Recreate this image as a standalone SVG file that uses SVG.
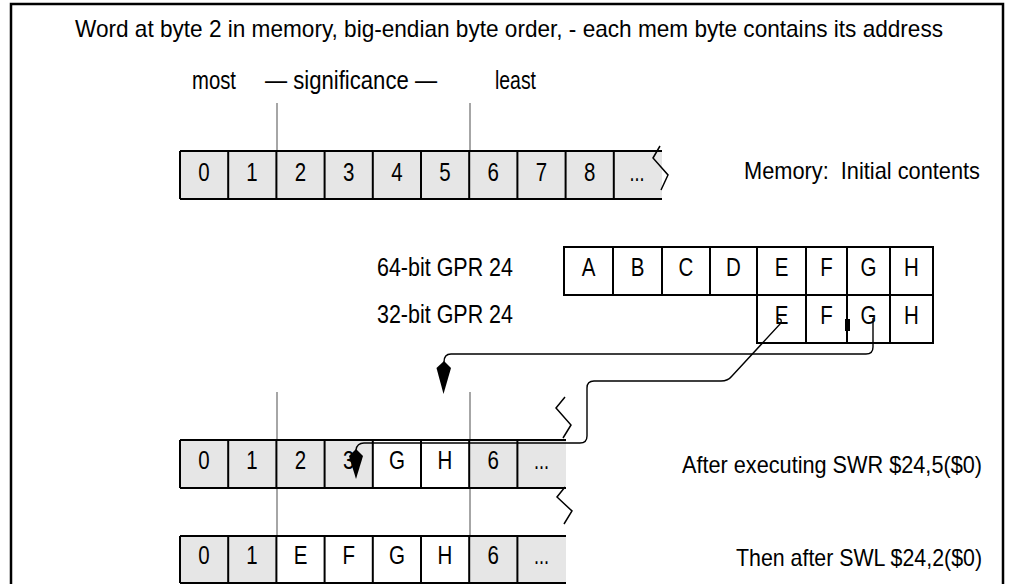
<svg xmlns="http://www.w3.org/2000/svg" width="1014" height="584" viewBox="0 0 1014 584">
<style>
.t{font-family:"Liberation Sans",Arial,sans-serif;font-size:25px;fill:#000}
.l{font-size:24px}
.c{text-anchor:middle}
.e{text-anchor:end}
.ln{stroke:#000;stroke-width:2;fill:none}
.gr{fill:#e6e6e6}
.wh{fill:#fff}
.guide{stroke:#888;stroke-width:1.5}
.conn{fill:none;stroke:#000;stroke-width:1.4}
.zig{fill:none;stroke:#000;stroke-width:1.5}
</style>
<rect x="0" y="0" width="1014" height="584" fill="#fff"/>
<rect x="11" y="4" width="992" height="640" fill="none" stroke="#000" stroke-width="2.5"/>

<g id="title">
<text class="t l" x="75" y="37" textLength="868" lengthAdjust="spacingAndGlyphs">Word at byte 2 in memory, big-endian byte order, - each mem byte contains its address</text>
</g>

<g id="significance">
<text class="t" x="192" y="89" textLength="44" lengthAdjust="spacingAndGlyphs">most</text>
<text class="t" x="265" y="89" textLength="172" lengthAdjust="spacingAndGlyphs">— significance —</text>
<text class="t" x="495" y="89" textLength="41" lengthAdjust="spacingAndGlyphs">least</text>
<line class="guide" x1="277" y1="103" x2="277" y2="151"/>
<line class="guide" x1="470" y1="103" x2="470" y2="151"/>
</g>

<g id="mem-initial">
<rect class="gr" x="180" y="151" width="482" height="48"/>
<path class="ln" d="M180,151H662M180,199H662M180,151V199M228.2,151V199M276.4,151V199M324.6,151V199M372.8,151V199M421,151V199M469.2,151V199M517.4,151V199M565.6,151V199M613.8,151V199"/>
<polyline class="zig" points="660,146 653,158 668,175 661,190"/>
<text class="t c" x="204" y="181" textLength="11.4" lengthAdjust="spacingAndGlyphs">0</text>
<text class="t c" x="252" y="181" textLength="11.4" lengthAdjust="spacingAndGlyphs">1</text>
<text class="t c" x="300.5" y="181" textLength="11.4" lengthAdjust="spacingAndGlyphs">2</text>
<text class="t c" x="348.7" y="181" textLength="11.4" lengthAdjust="spacingAndGlyphs">3</text>
<text class="t c" x="397" y="181" textLength="11.4" lengthAdjust="spacingAndGlyphs">4</text>
<text class="t c" x="445" y="181" textLength="11.4" lengthAdjust="spacingAndGlyphs">5</text>
<text class="t c" x="493.3" y="181" textLength="11.4" lengthAdjust="spacingAndGlyphs">6</text>
<text class="t c" x="541.5" y="181" textLength="11.4" lengthAdjust="spacingAndGlyphs">7</text>
<text class="t c" x="589.7" y="181" textLength="11.4" lengthAdjust="spacingAndGlyphs">8</text>
<text class="t c" x="637" y="181" textLength="15" lengthAdjust="spacingAndGlyphs">...</text>
<text class="t l" x="744" y="179" textLength="236" lengthAdjust="spacingAndGlyphs" style="white-space:pre">Memory:  Initial contents</text>
</g>

<g id="gpr64">
<text class="t" x="377" y="276" textLength="136" lengthAdjust="spacingAndGlyphs">64-bit GPR 24</text>
<rect class="wh" x="564" y="247" width="369" height="48"/>
<path class="ln" d="M564,247H933V295H564ZM613,247V295M662,247V295M710,247V295M757,247V295M806,247V295M847,247V295M890,247V295"/>
<text class="t c" x="588.5" y="276" textLength="13.7" lengthAdjust="spacingAndGlyphs">A</text>
<text class="t c" x="637.5" y="276" textLength="13.7" lengthAdjust="spacingAndGlyphs">B</text>
<text class="t c" x="686" y="276" textLength="14.8" lengthAdjust="spacingAndGlyphs">C</text>
<text class="t c" x="733.5" y="276" textLength="14.8" lengthAdjust="spacingAndGlyphs">D</text>
<text class="t c" x="781.5" y="276" textLength="13.7" lengthAdjust="spacingAndGlyphs">E</text>
<text class="t c" x="826.5" y="276" textLength="12.5" lengthAdjust="spacingAndGlyphs">F</text>
<text class="t c" x="868.5" y="276" textLength="16" lengthAdjust="spacingAndGlyphs">G</text>
<text class="t c" x="911.5" y="276" textLength="14.8" lengthAdjust="spacingAndGlyphs">H</text>
</g>

<g id="gpr32">
<text class="t" x="377" y="323" textLength="136" lengthAdjust="spacingAndGlyphs">32-bit GPR 24</text>
<rect class="wh" x="757" y="295" width="176" height="48"/>
<path class="ln" d="M757,295H933V343H757ZM806,295V343M847,295V343M890,295V343"/>
<text class="t c" x="781.5" y="324" textLength="13.7" lengthAdjust="spacingAndGlyphs">E</text>
<text class="t c" x="826.5" y="324" textLength="12.5" lengthAdjust="spacingAndGlyphs">F</text>
<text class="t c" x="868.5" y="324" textLength="16" lengthAdjust="spacingAndGlyphs">G</text>
<text class="t c" x="911.5" y="324" textLength="14.8" lengthAdjust="spacingAndGlyphs">H</text>
<rect x="845" y="319" width="5" height="12" fill="#000"/>
</g>

<g id="guides-lower">
<line class="guide" x1="277" y1="392" x2="277" y2="536"/>
<line class="guide" x1="470" y1="392" x2="470" y2="536"/>
</g>

<g id="mem-after-swr">
<rect class="gr" x="180" y="440" width="386" height="48"/>
<rect class="wh" x="372.8" y="440" width="96.4" height="48"/>
<path class="ln" d="M180,440H566M180,488H566M180,440V488M228.2,440V488M276.4,440V488M324.6,440V488M372.8,440V488M421,440V488M469.2,440V488M517.4,440V488"/>
<polyline class="zig" points="565,397 556,408 571,425 563,438"/>
<text class="t c" x="204" y="469" textLength="11.4" lengthAdjust="spacingAndGlyphs">0</text>
<text class="t c" x="252" y="469" textLength="11.4" lengthAdjust="spacingAndGlyphs">1</text>
<text class="t c" x="300.5" y="469" textLength="11.4" lengthAdjust="spacingAndGlyphs">2</text>
<text class="t c" x="348.7" y="469" textLength="11.4" lengthAdjust="spacingAndGlyphs">3</text>
<text class="t c" x="397" y="469" textLength="16" lengthAdjust="spacingAndGlyphs">G</text>
<text class="t c" x="445" y="469" textLength="14.8" lengthAdjust="spacingAndGlyphs">H</text>
<text class="t c" x="493.3" y="469" textLength="11.4" lengthAdjust="spacingAndGlyphs">6</text>
<text class="t c" x="541.5" y="469" textLength="15" lengthAdjust="spacingAndGlyphs">...</text>
<text class="t l e" x="982" y="473" textLength="300" lengthAdjust="spacingAndGlyphs">After executing SWR $24,5($0)</text>
</g>

<g id="mem-after-swl">
<rect class="gr" x="180" y="536" width="386" height="47"/>
<rect class="wh" x="276.4" y="536" width="192.8" height="47"/>
<path class="ln" d="M180,536H566M180,583H566M180,536V583M228.2,536V583M276.4,536V583M324.6,536V583M372.8,536V583M421,536V583M469.2,536V583M517.4,536V583"/>
<polyline class="zig" points="565,487 557,497 572,511 564,524"/>
<text class="t c" x="204" y="564" textLength="11.4" lengthAdjust="spacingAndGlyphs">0</text>
<text class="t c" x="252" y="564" textLength="11.4" lengthAdjust="spacingAndGlyphs">1</text>
<text class="t c" x="300.5" y="564" textLength="13.7" lengthAdjust="spacingAndGlyphs">E</text>
<text class="t c" x="348.7" y="564" textLength="12.5" lengthAdjust="spacingAndGlyphs">F</text>
<text class="t c" x="397" y="564" textLength="16" lengthAdjust="spacingAndGlyphs">G</text>
<text class="t c" x="445" y="564" textLength="14.8" lengthAdjust="spacingAndGlyphs">H</text>
<text class="t c" x="493.3" y="564" textLength="11.4" lengthAdjust="spacingAndGlyphs">6</text>
<text class="t c" x="541.5" y="564" textLength="15" lengthAdjust="spacingAndGlyphs">...</text>
<text class="t l e" x="982" y="566" textLength="246" lengthAdjust="spacingAndGlyphs">Then after SWL $24,2($0)</text>
</g>

<g id="connectors">
<path class="conn" d="M873,318V347Q873,354 866,354H451Q444,354 444,362"/>
<path d="M444,361L436.5,368L443.5,394L451,368Z" fill="#000"/>
<path class="conn" d="M778,319Q782,318 781,323L732,376Q728,381 721,381H594Q587,381 587,388V436Q587,443 580,443H364Q357,443 356,450"/>
<path d="M356,449L349,456L356,479L363,456Z" fill="#000"/>
</g>
</svg>
